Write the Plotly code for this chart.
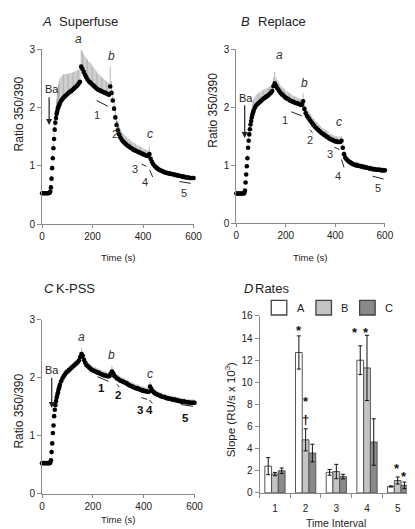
import plotly.graph_objects as go

W, H = 415, 529
FONT = "Liberation Sans, Arial, Helvetica, sans-serif"
TXT = "#222222"
AX = "#8a8a8a"

# ---------------- data ----------------
time_s = [0, 5, 10, 15, 20, 25, 30,
          32.5, 35, 37.5, 40, 42.5, 45, 47.5, 50, 52.5, 55, 57.5, 60, 62.5, 65, 67.5, 70,
          75, 80, 85, 90, 95] + list(range(100, 601, 5))

ratio_superfuse = [
    0.53, 0.53, 0.53, 0.53, 0.53, 0.53, 0.54,
    0.56, 0.63, 0.78, 0.96, 1.13, 1.30, 1.46, 1.62, 1.74, 1.82, 1.89, 1.93, 1.98, 2.01, 2.04, 2.07,
    2.11, 2.14, 2.17, 2.19, 2.21,
    2.23, 2.25, 2.27, 2.28, 2.30, 2.32, 2.34, 2.36, 2.38, 2.41,
    2.44, 2.70, 2.66, 2.61, 2.56, 2.52, 2.48, 2.45, 2.43, 2.41,
    2.39, 2.37, 2.35, 2.33, 2.31, 2.30, 2.29, 2.28, 2.27, 2.26,
    2.25, 2.24, 2.23, 2.22, 2.36, 2.25, 2.12, 1.98, 1.83, 1.70,
    1.61, 1.54, 1.49, 1.45, 1.42, 1.40, 1.38, 1.36, 1.34, 1.33,
    1.31, 1.30, 1.28, 1.27, 1.26, 1.25, 1.24, 1.23, 1.22, 1.21,
    1.20, 1.19, 1.18, 1.17, 1.17, 1.20, 1.12, 1.07, 1.03, 1.00,
    0.98, 0.96, 0.94, 0.93, 0.92, 0.91, 0.90, 0.89, 0.88, 0.88,
    0.87, 0.87, 0.86, 0.86, 0.85, 0.85, 0.84, 0.84, 0.83, 0.83,
    0.82, 0.82, 0.81, 0.81, 0.80, 0.80, 0.80, 0.79, 0.79, 0.79,
    0.79]
err_superfuse = [
    0.02, 0.02, 0.02, 0.02, 0.02, 0.02, 0.02,
    0.02, 0.03, 0.04, 0.05, 0.06, 0.08, 0.10, 0.12, 0.15, 0.20, 0.25, 0.30, 0.34, 0.38, 0.40, 0.42,
    0.42, 0.41, 0.40, 0.38, 0.37,
    0.35, 0.33, 0.32, 0.31, 0.30, 0.29, 0.28, 0.27, 0.26, 0.24,
    0.25, 0.29, 0.30, 0.31, 0.32, 0.33, 0.34, 0.34, 0.34, 0.33,
    0.32, 0.31, 0.30, 0.29, 0.28, 0.27, 0.26, 0.25, 0.24, 0.23,
    0.22, 0.21, 0.20, 0.20, 0.34, 0.20, 0.16, 0.15, 0.15, 0.15,
    0.15, 0.15, 0.14, 0.14, 0.14, 0.14, 0.13, 0.13, 0.13, 0.13,
    0.12, 0.12, 0.12, 0.12, 0.12, 0.11, 0.11, 0.11, 0.11, 0.11,
    0.10, 0.10, 0.10, 0.10, 0.10, 0.13, 0.06, 0.05, 0.05, 0.04,
    0.04, 0.04, 0.04, 0.04, 0.03, 0.03, 0.03, 0.03, 0.03, 0.03,
    0.03, 0.03, 0.03, 0.03, 0.03, 0.03, 0.03, 0.03, 0.03, 0.03,
    0.03, 0.03, 0.03, 0.03, 0.03, 0.03, 0.03, 0.03, 0.03, 0.03,
    0.03]

ratio_replace = [
    0.51, 0.51, 0.51, 0.51, 0.51, 0.51, 0.51,
    0.52, 0.56, 0.70, 0.84, 0.98, 1.12, 1.30, 1.42, 1.53, 1.62, 1.70, 1.76, 1.82, 1.87, 1.91, 1.94,
    1.99, 2.03, 2.05, 2.07, 2.09,
    2.11, 2.13, 2.15, 2.16, 2.18, 2.19, 2.21, 2.23, 2.25, 2.28,
    2.36, 2.41, 2.37, 2.33, 2.30, 2.27, 2.24, 2.22, 2.20, 2.18,
    2.16, 2.15, 2.14, 2.12, 2.11, 2.10, 2.09, 2.08, 2.07, 2.07,
    2.06, 2.05, 2.04, 2.04, 2.10, 1.97, 1.90, 1.85, 1.82, 1.79,
    1.76, 1.73, 1.70, 1.68, 1.65, 1.63, 1.61, 1.59, 1.57, 1.55,
    1.54, 1.52, 1.51, 1.49, 1.48, 1.46, 1.45, 1.44, 1.43, 1.42,
    1.41, 1.41, 1.40, 1.40, 1.40, 1.42, 1.30, 1.19, 1.13, 1.10,
    1.08, 1.06, 1.05, 1.03, 1.02, 1.01, 1.00, 1.00, 0.99, 0.99,
    0.98, 0.98, 0.97, 0.97, 0.96, 0.96, 0.95, 0.95, 0.94, 0.94,
    0.93, 0.93, 0.93, 0.92, 0.92, 0.92, 0.92, 0.91, 0.91, 0.91,
    0.91]
err_replace = [
    0.02, 0.02, 0.02, 0.02, 0.02, 0.02, 0.02,
    0.02, 0.03, 0.03, 0.04, 0.04, 0.05, 0.06, 0.07, 0.08, 0.10, 0.12, 0.14, 0.16, 0.18, 0.19, 0.20,
    0.19, 0.18, 0.18, 0.17, 0.17,
    0.16, 0.16, 0.15, 0.15, 0.14, 0.14, 0.13, 0.13, 0.12, 0.12,
    0.15, 0.20, 0.15, 0.14, 0.14, 0.14, 0.13, 0.13, 0.13, 0.13,
    0.12, 0.12, 0.12, 0.12, 0.12, 0.11, 0.11, 0.11, 0.11, 0.11,
    0.10, 0.10, 0.10, 0.10, 0.14, 0.12, 0.12, 0.12, 0.12, 0.12,
    0.12, 0.12, 0.11, 0.11, 0.11, 0.11, 0.11, 0.11, 0.10, 0.10,
    0.10, 0.10, 0.10, 0.10, 0.10, 0.09, 0.09, 0.09, 0.09, 0.09,
    0.09, 0.09, 0.09, 0.09, 0.09, 0.08, 0.07, 0.06, 0.06, 0.06,
    0.06, 0.06, 0.06, 0.06, 0.06, 0.06, 0.06, 0.06, 0.06, 0.06,
    0.05, 0.05, 0.05, 0.05, 0.05, 0.05, 0.05, 0.05, 0.05, 0.05,
    0.05, 0.05, 0.05, 0.05, 0.05, 0.05, 0.05, 0.05, 0.05, 0.05,
    0.05]

ratio_kpss = [
    0.53, 0.53, 0.53, 0.53, 0.53, 0.53, 0.53,
    0.54, 0.58, 0.72, 0.87, 1.05, 1.18, 1.34, 1.45, 1.53, 1.60, 1.66, 1.71, 1.75, 1.80, 1.84, 1.88,
    1.94, 1.99, 2.03, 2.06, 2.09,
    2.11, 2.13, 2.15, 2.17, 2.19, 2.21, 2.23, 2.25, 2.27, 2.30,
    2.36, 2.41, 2.38, 2.31, 2.26, 2.22, 2.20, 2.18, 2.16, 2.14,
    2.13, 2.12, 2.11, 2.10, 2.09, 2.08, 2.07, 2.06, 2.05, 2.04,
    2.04, 2.03, 2.03, 2.03, 2.07, 2.11, 2.08, 2.03, 2.01, 1.99,
    1.98, 1.96, 1.95, 1.94, 1.93, 1.92, 1.91, 1.90, 1.88, 1.87,
    1.86, 1.85, 1.84, 1.83, 1.82, 1.82, 1.81, 1.80, 1.79, 1.78,
    1.78, 1.77, 1.77, 1.76, 1.76, 1.85, 1.81, 1.77, 1.75, 1.73,
    1.72, 1.71, 1.70, 1.69, 1.68, 1.67, 1.67, 1.66, 1.65, 1.65,
    1.64, 1.64, 1.63, 1.63, 1.62, 1.62, 1.61, 1.61, 1.60, 1.60,
    1.59, 1.59, 1.59, 1.58, 1.58, 1.58, 1.57, 1.57, 1.57, 1.57,
    1.57]
err_kpss = [
    0.01, 0.01, 0.01, 0.01, 0.01, 0.01, 0.01,
    0.01, 0.02, 0.02, 0.02, 0.02, 0.03, 0.03, 0.03, 0.04, 0.04, 0.05, 0.05, 0.06, 0.06, 0.06, 0.06,
    0.06, 0.06, 0.06, 0.06, 0.06,
    0.06, 0.06, 0.06, 0.06, 0.06, 0.06, 0.06, 0.06, 0.07, 0.07,
    0.08, 0.11, 0.08, 0.07, 0.07, 0.07, 0.07, 0.07, 0.07, 0.07,
    0.07, 0.07, 0.07, 0.07, 0.07, 0.07, 0.07, 0.07, 0.07, 0.07,
    0.07, 0.07, 0.07, 0.07, 0.08, 0.10, 0.08, 0.07, 0.07, 0.07,
    0.07, 0.07, 0.07, 0.07, 0.07, 0.07, 0.07, 0.07, 0.07, 0.07,
    0.07, 0.07, 0.07, 0.07, 0.07, 0.07, 0.07, 0.07, 0.07, 0.07,
    0.07, 0.07, 0.07, 0.07, 0.07, 0.08, 0.07, 0.06, 0.06, 0.06,
    0.06, 0.06, 0.06, 0.06, 0.06, 0.06, 0.06, 0.06, 0.06, 0.06,
    0.06, 0.06, 0.06, 0.06, 0.06, 0.06, 0.06, 0.06, 0.06, 0.06,
    0.06, 0.06, 0.06, 0.06, 0.06, 0.06, 0.06, 0.06, 0.06, 0.06,
    0.06]

intervals = [1, 2, 3, 4, 5]
interval_labels = ["1", "2", "3", "4", "5"]
group_names = ["A", "B", "C"]
slope_A = [2.42, 12.7, 1.86, 12.0, 0.58]
slope_A_err = [0.77, 1.5, 0.26, 1.3, 0.05]
slope_B = [1.70, 4.8, 1.93, 11.3, 1.12]
slope_B_err = [0.15, 1.0, 0.65, 2.95, 0.32]
slope_C = [2.0, 3.6, 1.47, 4.6, 0.68]
slope_C_err = [0.25, 0.8, 0.21, 2.1, 0.30]
bar_colors = ["#ffffff", "#c4c4c4", "#8a8a8a"]

time_ticks = [0, 200, 400, 600]
ratio_ticks = [0, 1, 2, 3]
slope_ticks = [0, 2, 4, 6, 8, 10, 12, 14, 16]

for s in (ratio_superfuse, err_superfuse, ratio_replace, err_replace, ratio_kpss, err_kpss):
    assert len(s) == len(time_s), (len(s), len(time_s))

# ---------------- figure ----------------
fig = go.Figure()

def px(x):
    return x / W

def py(y):
    return 1 - y / H

panels = [
    ("x", "y", ratio_superfuse, err_superfuse),
    ("x2", "y2", ratio_replace, err_replace),
    ("x3", "y3", ratio_kpss, err_kpss),
]
for xa, ya, vals, errs in panels:
    fig.add_trace(go.Scatter(
        x=time_s, y=vals, mode="markers", xaxis=xa, yaxis=ya,
        marker=dict(size=4.6, color="#000000", line=dict(width=0)),
        error_y=dict(type="data", array=errs, arrayminus=[0] * len(errs),
                     symmetric=False, color="#a3a3a3", thickness=0.8, width=0),
        cliponaxis=False, showlegend=False, hoverinfo="skip"))

bar_series = [(slope_A, slope_A_err), (slope_B, slope_B_err), (slope_C, slope_C_err)]
for name, (vals, errs), col in zip(group_names, bar_series, bar_colors):
    fig.add_trace(go.Bar(
        x=intervals, y=vals, name=name, xaxis="x4", yaxis="y4",
        marker=dict(color=col, line=dict(color="#555555", width=1)),
        error_y=dict(type="data", array=errs, color="#111111", thickness=1, width=2),
        showlegend=False))
fig.add_trace(go.Scatter(x=[None], y=[None], xaxis="x5", yaxis="y4", showlegend=False))

tickfont = dict(family=FONT, size=10, color=TXT)

def xaxis_ts(x0, x1, anchor):
    return dict(domain=[px(x0), px(x1)], range=[0, 600], anchor=anchor,
                tickvals=time_ticks, ticks="outside", ticklen=3, tickcolor=AX,
                showline=True, linecolor=AX, linewidth=1, showgrid=False,
                zeroline=False, tickfont=tickfont)

def yaxis_ts(y_top, y_bot, anchor):
    return dict(domain=[py(y_bot), py(y_top)], range=[0, 3], anchor=anchor,
                tickvals=ratio_ticks, ticks="outside", ticklen=4, tickcolor=AX,
                showline=True, linecolor=AX, linewidth=1, showgrid=False,
                zeroline=False, tickfont=tickfont)

fig.update_layout(
    width=W, height=H, margin=dict(l=0, r=0, t=0, b=0),
    paper_bgcolor="white", plot_bgcolor="white",
    font=dict(family=FONT, color=TXT),
    barmode="group", bargap=0.34, bargroupgap=0,
    xaxis=xaxis_ts(32, 188, "y"), yaxis=yaxis_ts(36, 215, "x"),
    xaxis2=xaxis_ts(232, 385, "y2"), yaxis2=yaxis_ts(36, 214, "x2"),
    xaxis3=xaxis_ts(32, 189, "y3"), yaxis3=yaxis_ts(313, 491, "x3"),
    xaxis4=dict(domain=[px(256), px(414)], range=[0.5, 5.5], anchor="y4",
                tickvals=intervals, ticktext=interval_labels, ticks="",
                ticklabelstandoff=6,
                showline=True, linecolor=AX, linewidth=1, showgrid=False,
                zeroline=False, tickfont=tickfont),
    xaxis5=dict(overlaying="x4", anchor="y4", range=[0.5, 5.5],
                tickvals=[0.5, 1.5, 2.5, 3.5, 4.5, 5.5], ticks="outside",
                ticklen=4, tickcolor=AX, showticklabels=False, showline=False,
                showgrid=False, zeroline=False),
    yaxis4=dict(domain=[py(490), py(309)], range=[0, 16], anchor="x4",
                tickvals=slope_ticks, ticks="outside", ticklen=4, tickcolor=AX,
                showline=True, linecolor=AX, linewidth=1, showgrid=False,
                zeroline=False, tickfont=tickfont),
)

ann = []
shapes = []

def paper_text(text, x, y, size, xanchor="left", angle=0, yanchor="middle", color=TXT):
    ann.append(dict(text=text, x=px(x), y=py(y), xref="paper", yref="paper",
                    xanchor=xanchor, yanchor=yanchor, showarrow=False,
                    textangle=angle, font=dict(family=FONT, size=size, color=color)))

# panel titles
paper_text("<i>A</i>", 30, 7.5, 13)
paper_text("Superfuse", 47, 7.5, 13)
paper_text("<i>B</i>", 235, 7.5, 13)
paper_text("Replace", 252, 7.5, 13)
paper_text("<i>C</i>", 32, 281, 13)
paper_text("K-PSS", 44, 281, 13)
paper_text("<i>D</i>", 238, 281, 13)
paper_text("Rates", 249, 281, 13)

# axis titles
paper_text("Time (s)", 110, 249, 9.5, xanchor="center")
paper_text("Time (s)", 308, 249, 9.5, xanchor="center")
paper_text("Time (s)", 110, 517, 9.5, xanchor="center")
paper_text("Time Interval", 335, 521, 10.5, xanchor="center")
paper_text("Ratio 350/390", 8, 102, 12, xanchor="center", angle=-90)
paper_text("Ratio 350/390", 208, 98, 12, xanchor="center", angle=-90)
paper_text("Ratio 350/390", 8, 406, 12, xanchor="center", angle=-90)
paper_text("Slope (RU/s x 10<sup>3</sup>)", 225, 405, 11.5, xanchor="center", angle=-90)

def data_text(text, xa, ya, x, y, size=11, italic=False, bold=False, color="#333333"):
    t = text
    if italic:
        t = "<i>%s</i>" % t
    if bold:
        t = "<b>%s</b>" % t
    ann.append(dict(text=t, x=x, y=y, xref=xa, yref=ya, showarrow=False,
                    font=dict(family=FONT, size=size, color=color)))

def seg(xa, ya, x0, y0, x1, y1):
    shapes.append(dict(type="line", xref=xa, yref=ya, x0=x0, y0=y0, x1=x1, y1=y1,
                       line=dict(color="#222222", width=1)))

def ba_arrow(xa, ya, xt, ytxt, x_ar, y0, y1):
    data_text("Ba", xa, ya, xt, ytxt, size=11, color=TXT)
    ann.append(dict(text="", x=x_ar, y=y1, ax=x_ar, ay=y0, xref=xa, yref=ya,
                    axref=xa, ayref=ya, showarrow=True, arrowhead=2, arrowsize=1,
                    arrowwidth=1.2, arrowcolor="#222222", standoff=0))

# Panel A annotations ("a" sits above the axis range, so it is placed on the page)
paper_text("<i>a</i>", 69, 26, 12, xanchor="center", color="#333333")
data_text("b", "x", "y", 275, 2.89, 12, True)
data_text("c", "x", "y", 429, 1.55, 12, True)
ba_arrow("x", "y", 40, 2.31, 28, 2.20, 1.70)
seg("x", "y", 216, 2.12, 261, 2.02)
seg("x", "y", 296, 1.76, 306, 1.52)
seg("x", "y", 394, 1.03, 413, 0.99)
seg("x", "y", 426, 0.93, 438, 0.81)
seg("x", "y", 544, 0.73, 589, 0.70)
data_text("1", "x", "y", 216, 1.87)
data_text("2", "x", "y", 290, 1.54)
data_text("3", "x", "y", 368, 0.94)
data_text("4", "x", "y", 407, 0.72)
data_text("5", "x", "y", 564, 0.54)

# Panel B annotations
data_text("a", "x2", "y2", 174, 2.90, 12, True)
data_text("b", "x2", "y2", 275, 2.41, 12, True)
data_text("c", "x2", "y2", 413, 1.75, 12, True)
ba_arrow("x2", "y2", 39, 2.16, 34, 2.06, 1.47)
seg("x2", "y2", 222, 1.92, 265, 1.85)
seg("x2", "y2", 298, 1.61, 308, 1.56)
seg("x2", "y2", 396, 1.31, 416, 1.27)
seg("x2", "y2", 425, 1.10, 435, 0.96)
seg("x2", "y2", 550, 0.81, 595, 0.76)
data_text("1", "x2", "y2", 197, 1.78)
data_text("2", "x2", "y2", 298, 1.44)
data_text("3", "x2", "y2", 379, 1.19)
data_text("4", "x2", "y2", 412, 0.82)
data_text("5", "x2", "y2", 573, 0.60)

# Panel C annotations
data_text("a", "x3", "y3", 155, 2.71, 12, True)
data_text("b", "x3", "y3", 275, 2.40, 12, True)
data_text("c", "x3", "y3", 423, 2.06, 12, True)
ba_arrow("x3", "y3", 40, 2.13, 38, 2.03, 1.48)
seg("x3", "y3", 218, 2.02, 262, 1.94)
seg("x3", "y3", 295, 1.89, 304, 1.84)
seg("x3", "y3", 391, 1.66, 413, 1.63)
seg("x3", "y3", 423, 1.62, 434, 1.56)
seg("x3", "y3", 547, 1.54, 594, 1.51)
data_text("1", "x3", "y3", 234, 1.82, 11.5, bold=True, color="#111111")
data_text("2", "x3", "y3", 298, 1.70, 11.5, bold=True, color="#111111")
data_text("3", "x3", "y3", 384, 1.45, 11.5, bold=True, color="#111111")
data_text("4", "x3", "y3", 423, 1.45, 11.5, bold=True, color="#111111")
data_text("5", "x3", "y3", 566, 1.31, 11.5, bold=True, color="#111111")

# Panel D significance marks
for sx, sy, sym in [(1.78, 14.7, "*"), (2.0, 8.3, "*"), (1.98, 6.6, "†"),
                    (3.6, 14.5, "*"), (3.98, 14.5, "*"), (4.98, 2.2, "*"),
                    (5.22, 1.5, "*")]:
    ann.append(dict(text="<b>%s</b>" % sym, x=sx, y=sy, xref="x4", yref="y4",
                    showarrow=False, font=dict(family=FONT, size=13, color="#111111")))

# Panel D legend
legend_boxes = [(268, "A"), (314, "B"), (359, "C")]
for (x0, label), col in zip(legend_boxes, bar_colors):
    shapes.append(dict(type="rect", xref="paper", yref="paper",
                       x0=px(x0), x1=px(x0 + 16), y0=py(308), y1=py(293),
                       fillcolor=col, line=dict(color="#444444", width=1.3)))
    paper_text(label, x0 + 24, 300.5, 11)

fig.update_layout(annotations=ann, shapes=shapes)
fig.write_html("out.html")
